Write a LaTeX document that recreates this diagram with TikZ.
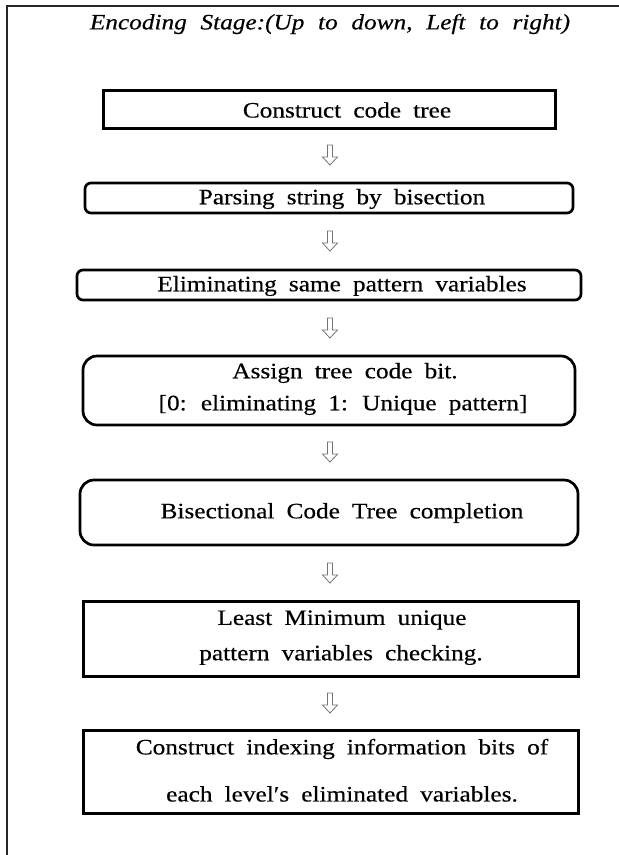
\documentclass[tikz,border=0pt]{standalone}
\usepackage{fontspec}
\setmainfont{Liberation Serif}[FakeStretch=1.15, FakeBold=0.4]
\newcommand\stagefont{\fontsize{22}{26}\selectfont\spaceskip=0.55em\relax}
\newcommand\titlefont{\fontsize{22}{26}\selectfont\itshape\spaceskip=0.62em\relax}
\begin{document}
\begin{tikzpicture}[x=1pt,y=-1pt,
  frameline/.style={line width=1.5pt, draw=black!85},
  sqbox/.style={draw, rectangle, line width=3pt, inner sep=0pt},
  rbox/.style={draw, rectangle, line width=2.7pt, rounded corners=6pt, inner sep=0pt},
  bigrbox/.style={draw, rectangle, line width=2.7pt, rounded corners=14pt, inner sep=0pt},
  lbl/.style={font=\stagefont, inner sep=0pt, anchor=center},
  hollowarrow/.style={draw=black!55, line width=0.8pt, fill=white},
  downarrow/.pic={
    \draw[hollowarrow] (-2.5,-10) -- (-2.5,2) -- (-7.5,2) -- (0,10) -- (7.5,2) -- (2.5,2) -- (2.5,-10) -- cycle;
  }]
\useasboundingbox (0,0) rectangle (619,855);

% page frame: top and left rules
\coordinate (ftr) at (619,6);
\coordinate (ftl) at (7,6);
\coordinate (fbl) at (7,855);
\draw[frameline] (ftr) -- (ftl) -- (fbl);

% heading
\node[font=\titlefont, inner sep=0pt] (title) at (330,24) {Encoding Stage:(Up to down, Left to right)};

% stage boxes
\node[sqbox, minimum width=452pt, minimum height=38pt] (b1) at (329,109) {};
\node[rbox, minimum width=488pt, minimum height=30pt] (b2) at (329,198) {};
\node[rbox, minimum width=504pt, minimum height=30pt] (b3) at (329,285) {};
\node[bigrbox, minimum width=492pt, minimum height=69pt] (b4) at (329,390.5) {};
\node[bigrbox, minimum width=498pt, minimum height=65pt] (b5) at (329,512.5) {};
\node[sqbox, minimum width=495pt, minimum height=75pt] (b6) at (330.5,638.5) {};
\node[sqbox, minimum width=495pt, minimum height=83pt] (b7) at (330.5,772) {};

% stage labels
\node[lbl] (t1) at (347,110) {Construct code tree};
\node[lbl] (t2) at (342,199) {Parsing string by bisection};
\node[lbl] (t3) at (342,286) {Eliminating same pattern variables};
\node[lbl] (t4a) at (345,373) {Assign tree code bit.};
\node[lbl] (t4b) at (343,405) {[0: eliminating 1: Unique pattern]};
\node[lbl] (t5) at (342,513) {Bisectional Code Tree completion};
\node[lbl] (t6a) at (342,620) {Least Minimum unique};
\node[lbl] (t6b) at (341,655) {pattern variables checking.};
\node[lbl] (t7a) at (342,749) {Construct indexing information bits of};
\node[lbl] (t7b) at (342,794) {each level′s eliminated variables.};

% flow arrows between stages
\pic at (330,155) {downarrow};
\pic at (330,241) {downarrow};
\pic at (330,328) {downarrow};
\pic at (330,452) {downarrow};
\pic at (330,573) {downarrow};
\pic at (330,703) {downarrow};
\end{tikzpicture}
\end{document}
